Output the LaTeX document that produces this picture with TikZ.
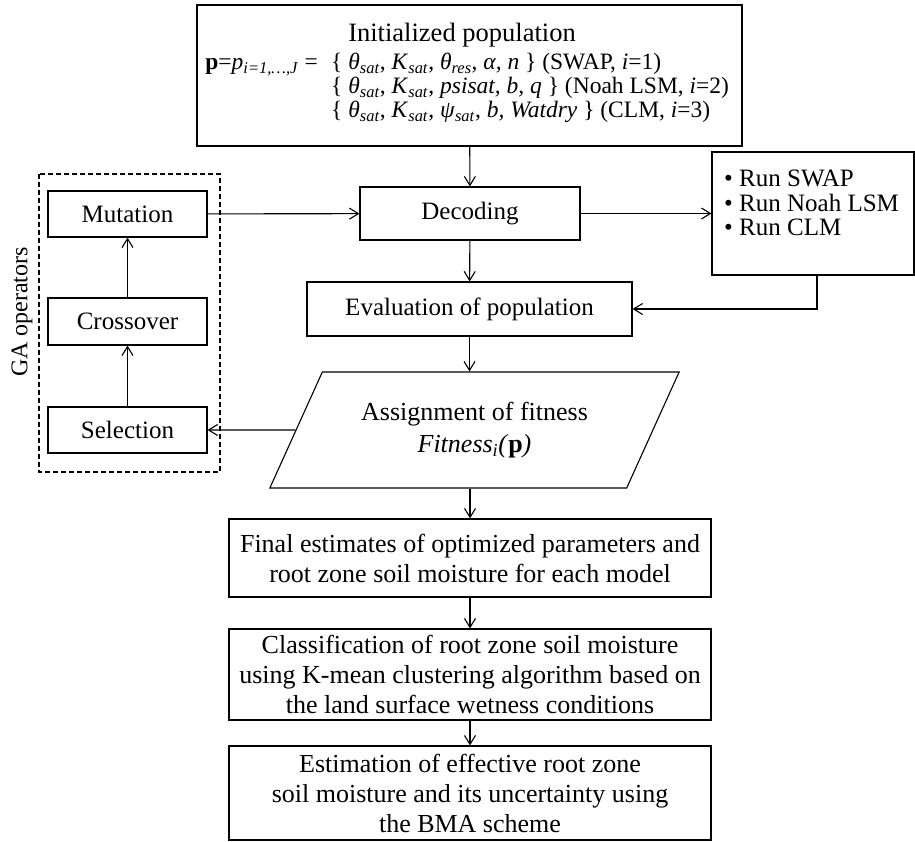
\documentclass[tikz,border=0pt]{standalone}
\usepackage{fontspec}
\setmainfont{Liberation Serif}
\usetikzlibrary{arrows.meta, shapes.geometric}

\newcommand{\isub}[1]{\textsubscript{\textit{#1}}}

\tikzset{
  box/.style={draw, line width=1.1pt, inner sep=0pt, align=center, font=\fontsize{25}{30}\selectfont},
  bigbox/.style={box, minimum width=482pt, font=\fontsize{26}{30}\selectfont},
  arr/.style={line width=1.1pt, -{Straight Barb[length=9pt,width=11pt]}},
  formula/.style={inner sep=0pt, font=\fontsize{23.5}{24}\selectfont},
}

\begin{document}
\begin{tikzpicture}[x=1pt,y=-1pt]
\useasboundingbox (0,0) rectangle (915,842);

% initialized population
\node[box, minimum width=545pt, minimum height=141pt] (init) at (469.5,75.5) {};
\node[anchor=base, inner sep=0pt, font=\fontsize{26.5}{26.5}\selectfont] (inittitle) at (462,42) {Initialized population};
\node[formula, anchor=base east] (pvec) at (318,70) {\textbf{p}=\textit{p}\isub{i=1,…,J} =};
\node[formula, anchor=base west] (params) at (331,70) {\begin{tabular}[t]{@{}l@{}}
  \{ \textit{θ}\isub{sat}, \textit{K}\isub{sat}, \textit{θ}\isub{res}, \textit{α, n} \} (SWAP, \textit{i}=1)\\
  \{ \textit{θ}\isub{sat}, \textit{K}\isub{sat}, \textit{psisat, b, q} \} (Noah LSM, \textit{i}=2)\\
  \{ \textit{θ}\isub{sat}, \textit{K}\isub{sat}, \textit{ψ}\isub{sat}, \textit{b, Watdry} \} (CLM, \textit{i}=3)
\end{tabular}};

% GA operators
\draw[line width=1.1pt, dash pattern=on 5pt off 3pt] (39,174) rectangle (220,472);
\node[rotate=90, font=\fontsize{24}{24}\selectfont] (galabel) at (22,312) {GA operators};
\node[box, minimum width=159pt, minimum height=46pt] (mutation) at (127.5,214) {Mutation};
\node[box, minimum width=159pt, minimum height=47pt] (crossover) at (127.5,321.5) {Crossover};
\node[box, minimum width=159pt, minimum height=46pt] (selection) at (127.5,430) {Selection};

% main loop
\node[box, minimum width=220pt, minimum height=53pt] (decode) at (470,213.5) {Decoding};
\node[box, minimum width=202pt, minimum height=123pt] (run) at (813,213.5) {};
\node[anchor=west, align=left, inner sep=0pt, font=\fontsize{25}{24.5}\selectfont] (runlist) at (724,203) {• Run SWAP\\• Run Noah LSM\\• Run CLM};
\node[box, minimum width=325pt, minimum height=54pt] (eval) at (469.5,309) {Evaluation of population};
\node[box, font=\fontsize{26}{32}\selectfont, trapezium, trapezium left angle=55, trapezium right angle=125,
  trapezium stretches, minimum width=411pt, minimum height=116pt] (assign) at (474.5,430)
  {Assignment of fitness\\\textit{Fitness}\isub{i}\textit{(}\textbf{p}\textit{)}};

% results
\node[bigbox, minimum height=78pt] (final) at (470,558) {Final estimates of optimized parameters and\\root zone soil moisture for each model};
\node[bigbox, minimum height=91pt] (classif) at (470,674.5) {Classification of root zone soil moisture\\using K-mean clustering algorithm based on\\the land surface wetness conditions};
\node[bigbox, minimum height=94pt] (estim) at (470,793) {Estimation of effective root zone\\soil moisture and its uncertainty using\\the BMA scheme};

% connectors
\draw[arr] (init) -- (decode);
\draw[arr] (mutation) -- (decode);
\draw[arr] (decode) -- (run);
\draw[arr] (decode) -- (eval);
\draw[arr] ([xshift=4pt]run.south) |- (eval.east);
\draw[arr] (eval.south) -- (eval.south |- assign.north);
\draw[arr] (assign.west) -- (selection.east);
\draw[arr] (selection) -- (crossover);
\draw[arr] (crossover) -- (mutation);
\draw[arr] (final.north |- assign.south) -- (final.north);
\draw[arr] (final) -- (classif);
\draw[arr] (classif) -- (estim);
\end{tikzpicture}
\end{document}
